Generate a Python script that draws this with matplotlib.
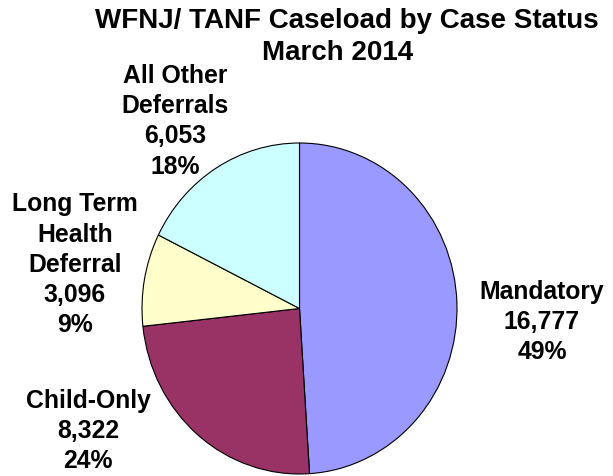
import matplotlib
matplotlib.use("Agg")
import matplotlib.pyplot as plt

STATUS = [["Mandatory"], ["Child-Only"], ["Long Term", "Health", "Deferral"],
          ["All Other", "Deferrals"]]
CASES = [16777, 8322, 3096, 6053]
COLORS = ["#9999ff", "#993366", "#ffffcc", "#ccffff"]
# label anchor: centre x and first baseline y, in figure pixels from top-left
LABEL_POS = [(542, 298.5), (88, 408), (75, 211.5), (175, 83)]
TITLE = [("WFNJ/ TANF Caseload by Case Status", 347, 28),
         ("March 2014", 338, 60.5)]

W, H = 613, 476
LINE = 30.2  # px between label baselines

fig = plt.figure(figsize=(W / 100, H / 100), dpi=100)
ax = fig.add_axes([142 / W, (H - 474) / H, 315 / W, 331 / H])
ax.pie(CASES, colors=COLORS, startangle=90, counterclock=False,
       wedgeprops=dict(edgecolor="black", linewidth=0.8))
ax.set_aspect("auto")
ax.set_xlim(-1, 1)
ax.set_ylim(-1, 1)

total = sum(CASES)
for name, n, (px, py) in zip(STATUS, CASES, LABEL_POS):
    lines = name + [f"{n:,}", f"{n / total:.0%}"]
    for i, s in enumerate(lines):
        fig.text(px / W, 1 - (py + i * LINE) / H, s, ha="center",
                 va="baseline", fontsize=17.8, fontweight="bold",
                 family="Liberation Sans")

for s, px, py in TITLE:
    fig.text(px / W, 1 - py / H, s, ha="center", va="baseline",
             fontsize=20, fontweight="bold", family="Liberation Sans")

fig.savefig("out.png", dpi=100, facecolor="white")
